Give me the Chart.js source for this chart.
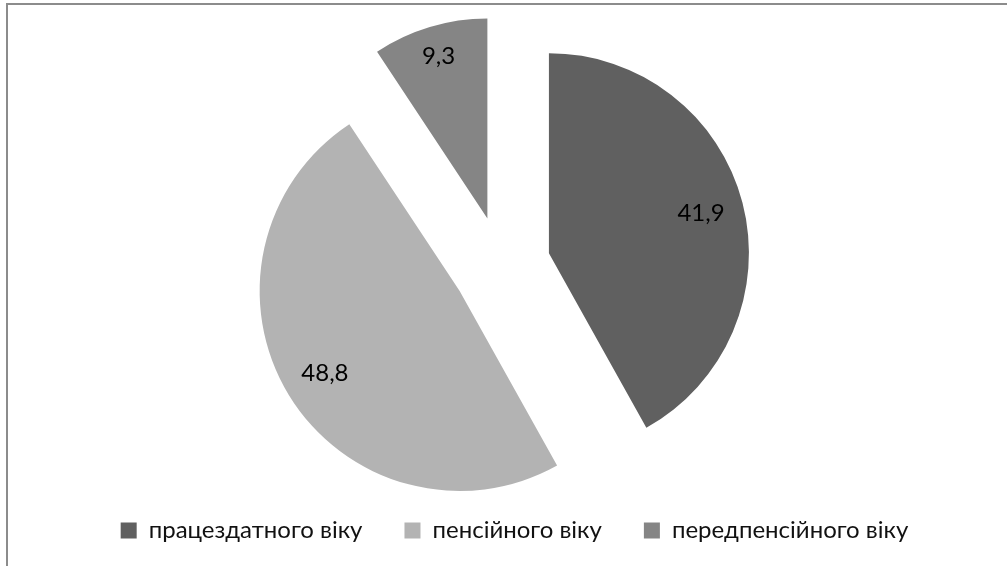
<!DOCTYPE html>
<html><head><meta charset="utf-8">
<script src="https://cdn.jsdelivr.net/npm/chart.js@4"></script>
<style>
html,body{margin:0;padding:0;background:#fff;overflow:hidden}
#wrap{position:absolute;left:0;top:0;width:1007px;height:566px}
#frame{position:absolute;left:6px;top:3px;width:1001px;height:563px;border-left:2px solid #8c8c8c;border-top:2px solid #8c8c8c;box-sizing:border-box}
canvas{position:absolute;left:0;top:0}
</style></head><body>
<div id="wrap"><div id="frame"></div><canvas id="c" width="1007" height="566" style="width:1007px;height:566px"></canvas></div>
<script>
const categories = ['працездатного віку', 'пенсійного віку', 'передпенсійного віку'];
const values = [41.9, 48.8, 9.3];
const valueLabels = ['41,9', '48,8', '9,3'];

const sliceColors = ['#606060', '#b3b3b3', '#858585'];
const FONT = 'Lato, "Liberation Sans", sans-serif';
const RADIUS = 200;
const EXPLODE = 49;

// Chart.js v4 arcs draw offset/4 as translation and enlarge the radius
// (and trim the angle) by a circumference-dependent amount; undo that so
// every exploded slice keeps the same radius and its true angle.
const evenRadius = {
  id: 'evenRadius',
  afterDatasetUpdate(chart, args) {
    args.meta.data.forEach(arc => {
      const off = (arc.options.offset || 0) / 4;
      const fix = 1 - Math.sin(Math.min(Math.PI, arc.circumference));
      const rOff = off * fix;
      arc.outerRadius = RADIUS - rOff;
      const a = rOff / (2 * Math.PI * RADIUS);
      arc.startAngle -= a;
      arc.endAngle += a;
    });
  }
};

const sliceLabels = {
  id: 'sliceLabels',
  afterDatasetsDraw(chart) {
    const ctx = chart.ctx;
    const meta = chart.getDatasetMeta(0);
    ctx.save();
    ctx.font = '24px ' + FONT;
    ctx.fillStyle = '#000';
    ctx.textAlign = 'center';
    ctx.textBaseline = 'middle';
    const margin = 18, h = 16;
    meta.data.forEach((arc, i) => {
      const mid = (arc.startAngle + arc.endAngle) / 2;
      const off = (arc.options.offset || 0) / 4;
      const cx = arc.x + Math.cos(mid) * off;
      const cy = arc.y + Math.sin(mid) * off;
      const w = ctx.measureText(valueLabels[i]).width;
      const p = Math.abs(Math.cos(mid)) * w / 2 + Math.abs(Math.sin(mid)) * h / 2;
      const r = RADIUS - margin - p;
      ctx.fillText(valueLabels[i], cx + Math.cos(mid) * r, cy + Math.sin(mid) * r);
    });
    ctx.restore();
  }
};

new Chart(document.getElementById('c'), {
  type: 'pie',
  data: {
    labels: categories,
    datasets: [{
      data: values,
      backgroundColor: sliceColors,
      borderWidth: 0,
      offset: EXPLODE * 4,
      hoverOffset: 0
    }]
  },
  options: {
    responsive: false,
    animation: false,
    radius: RADIUS,
    layout: { padding: { top: 54.5, bottom: 13.5, left: 22, right: 0 } },
    plugins: {
      tooltip: { enabled: false },
      title: {
        display: true,
        text: '',
        position: 'right',
        padding: 0,
        font: { size: 26, lineHeight: 1 }
      },
      legend: {
        position: 'bottom',
        labels: {
          font: { family: FONT, size: 24 },
          color: '#111',
          boxWidth: 16,
          boxHeight: 16,
          padding: 42
        }
      }
    }
  },
  plugins: [evenRadius, sliceLabels]
});
</script>
</body></html>
